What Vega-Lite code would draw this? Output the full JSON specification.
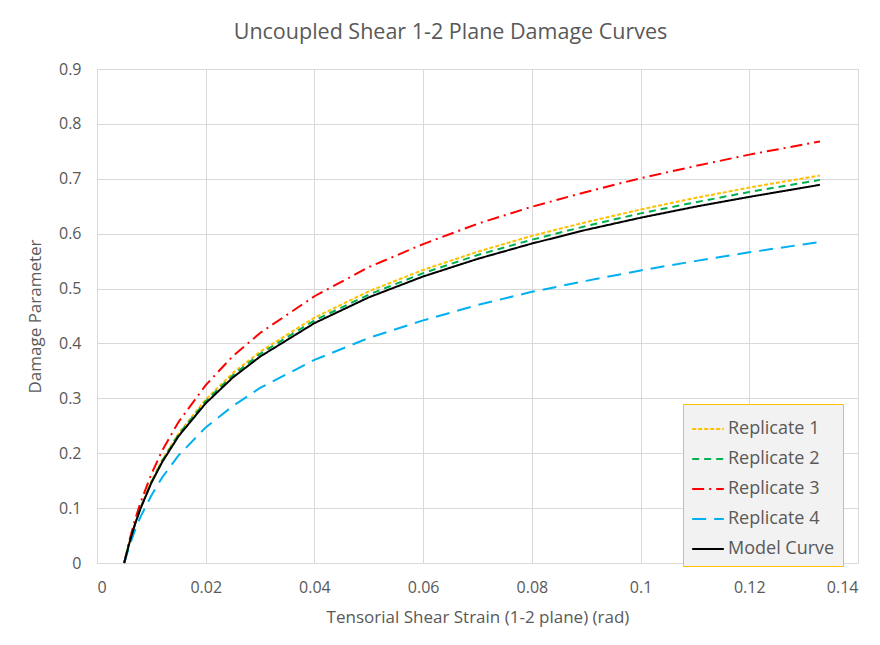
{
  "$schema": "https://vega.github.io/schema/vega-lite/v6.json",
  "autosize": "none",
  "width": 761,
  "height": 494,
  "padding": {"left": 97, "top": 69, "right": 22, "bottom": 82},
  "background": "white",
  "title": {"text": "Uncoupled Shear 1-2 Plane Damage Curves", "font": "Open Sans", "fontSize": 21.5, "fontWeight": "normal", "color": "#595959", "offset": 18, "anchor": "middle", "dx": -27},
  "datasets": {
    "curves": [
      {"s": "Replicate 1", "x": 0.005, "y": 0}, {"s": "Replicate 1", "x": 0.006, "y": 0.039}, {"s": "Replicate 1", "x": 0.007, "y": 0.072}, {"s": "Replicate 1", "x": 0.008, "y": 0.101}, {"s": "Replicate 1", "x": 0.01, "y": 0.149}, {"s": "Replicate 1", "x": 0.012, "y": 0.188}, {"s": "Replicate 1", "x": 0.015, "y": 0.236}, {"s": "Replicate 1", "x": 0.02, "y": 0.298}, {"s": "Replicate 1", "x": 0.025, "y": 0.346}, {"s": "Replicate 1", "x": 0.03, "y": 0.385}, {"s": "Replicate 1", "x": 0.04, "y": 0.447}, {"s": "Replicate 1", "x": 0.05, "y": 0.495}, {"s": "Replicate 1", "x": 0.06, "y": 0.534}, {"s": "Replicate 1", "x": 0.07, "y": 0.567}, {"s": "Replicate 1", "x": 0.08, "y": 0.596}, {"s": "Replicate 1", "x": 0.09, "y": 0.621}, {"s": "Replicate 1", "x": 0.1, "y": 0.644}, {"s": "Replicate 1", "x": 0.11, "y": 0.665}, {"s": "Replicate 1", "x": 0.12, "y": 0.684}, {"s": "Replicate 1", "x": 0.133, "y": 0.706},
      {"s": "Replicate 2", "x": 0.005, "y": 0}, {"s": "Replicate 2", "x": 0.006, "y": 0.039}, {"s": "Replicate 2", "x": 0.007, "y": 0.071}, {"s": "Replicate 2", "x": 0.008, "y": 0.1}, {"s": "Replicate 2", "x": 0.01, "y": 0.147}, {"s": "Replicate 2", "x": 0.012, "y": 0.186}, {"s": "Replicate 2", "x": 0.015, "y": 0.234}, {"s": "Replicate 2", "x": 0.02, "y": 0.295}, {"s": "Replicate 2", "x": 0.025, "y": 0.342}, {"s": "Replicate 2", "x": 0.03, "y": 0.381}, {"s": "Replicate 2", "x": 0.04, "y": 0.442}, {"s": "Replicate 2", "x": 0.05, "y": 0.489}, {"s": "Replicate 2", "x": 0.06, "y": 0.528}, {"s": "Replicate 2", "x": 0.07, "y": 0.561}, {"s": "Replicate 2", "x": 0.08, "y": 0.589}, {"s": "Replicate 2", "x": 0.09, "y": 0.614}, {"s": "Replicate 2", "x": 0.1, "y": 0.637}, {"s": "Replicate 2", "x": 0.11, "y": 0.657}, {"s": "Replicate 2", "x": 0.12, "y": 0.676}, {"s": "Replicate 2", "x": 0.133, "y": 0.698},
      {"s": "Replicate 3", "x": 0.005, "y": 0}, {"s": "Replicate 3", "x": 0.006, "y": 0.043}, {"s": "Replicate 3", "x": 0.007, "y": 0.079}, {"s": "Replicate 3", "x": 0.008, "y": 0.11}, {"s": "Replicate 3", "x": 0.01, "y": 0.162}, {"s": "Replicate 3", "x": 0.012, "y": 0.205}, {"s": "Replicate 3", "x": 0.015, "y": 0.257}, {"s": "Replicate 3", "x": 0.02, "y": 0.324}, {"s": "Replicate 3", "x": 0.025, "y": 0.377}, {"s": "Replicate 3", "x": 0.03, "y": 0.419}, {"s": "Replicate 3", "x": 0.04, "y": 0.486}, {"s": "Replicate 3", "x": 0.05, "y": 0.539}, {"s": "Replicate 3", "x": 0.06, "y": 0.581}, {"s": "Replicate 3", "x": 0.07, "y": 0.618}, {"s": "Replicate 3", "x": 0.08, "y": 0.649}, {"s": "Replicate 3", "x": 0.09, "y": 0.676}, {"s": "Replicate 3", "x": 0.1, "y": 0.701}, {"s": "Replicate 3", "x": 0.11, "y": 0.723}, {"s": "Replicate 3", "x": 0.12, "y": 0.744}, {"s": "Replicate 3", "x": 0.133, "y": 0.768},
      {"s": "Replicate 4", "x": 0.005, "y": 0}, {"s": "Replicate 4", "x": 0.006, "y": 0.032}, {"s": "Replicate 4", "x": 0.007, "y": 0.06}, {"s": "Replicate 4", "x": 0.008, "y": 0.084}, {"s": "Replicate 4", "x": 0.01, "y": 0.123}, {"s": "Replicate 4", "x": 0.012, "y": 0.156}, {"s": "Replicate 4", "x": 0.015, "y": 0.196}, {"s": "Replicate 4", "x": 0.02, "y": 0.247}, {"s": "Replicate 4", "x": 0.025, "y": 0.286}, {"s": "Replicate 4", "x": 0.03, "y": 0.319}, {"s": "Replicate 4", "x": 0.04, "y": 0.37}, {"s": "Replicate 4", "x": 0.05, "y": 0.41}, {"s": "Replicate 4", "x": 0.06, "y": 0.442}, {"s": "Replicate 4", "x": 0.07, "y": 0.47}, {"s": "Replicate 4", "x": 0.08, "y": 0.494}, {"s": "Replicate 4", "x": 0.09, "y": 0.514}, {"s": "Replicate 4", "x": 0.1, "y": 0.533}, {"s": "Replicate 4", "x": 0.11, "y": 0.55}, {"s": "Replicate 4", "x": 0.12, "y": 0.566}, {"s": "Replicate 4", "x": 0.133, "y": 0.585},
      {"s": "Model Curve", "x": 0.005, "y": 0}, {"s": "Model Curve", "x": 0.006, "y": 0.038}, {"s": "Model Curve", "x": 0.007, "y": 0.071}, {"s": "Model Curve", "x": 0.008, "y": 0.099}, {"s": "Model Curve", "x": 0.01, "y": 0.146}, {"s": "Model Curve", "x": 0.012, "y": 0.184}, {"s": "Model Curve", "x": 0.015, "y": 0.231}, {"s": "Model Curve", "x": 0.02, "y": 0.291}, {"s": "Model Curve", "x": 0.025, "y": 0.338}, {"s": "Model Curve", "x": 0.03, "y": 0.376}, {"s": "Model Curve", "x": 0.04, "y": 0.437}, {"s": "Model Curve", "x": 0.05, "y": 0.484}, {"s": "Model Curve", "x": 0.06, "y": 0.522}, {"s": "Model Curve", "x": 0.07, "y": 0.554}, {"s": "Model Curve", "x": 0.08, "y": 0.582}, {"s": "Model Curve", "x": 0.09, "y": 0.607}, {"s": "Model Curve", "x": 0.1, "y": 0.629}, {"s": "Model Curve", "x": 0.11, "y": 0.649}, {"s": "Model Curve", "x": 0.12, "y": 0.667}, {"s": "Model Curve", "x": 0.133, "y": 0.689}
    ]
  },
  "data": {"name": "curves"},
  "mark": {"type": "line", "strokeWidth": 2},
  "encoding": {
    "x": {"field": "x", "type": "quantitative", "scale": {"domain": [0, 0.14], "nice": false},
      "axis": {"title": "Tensorial Shear Strain (1-2 plane) (rad)", "values": [0, 0.02, 0.04, 0.06, 0.08, 0.1, 0.12, 0.14], "format": ".2~f"}},
    "y": {"field": "y", "type": "quantitative", "scale": {"domain": [0, 0.9], "nice": false},
      "axis": {"title": "Damage Parameter", "values": [0, 0.1, 0.2, 0.3, 0.4, 0.5, 0.6, 0.7, 0.8, 0.9], "format": ".1~f"}},
    "color": {"field": "s", "type": "nominal",
      "scale": {"domain": ["Replicate 1", "Replicate 2", "Replicate 3", "Replicate 4", "Model Curve"], "range": ["#FFC000", "#00B050", "#FF0000", "#00B0F0", "#000000"]},
      "legend": {"title": null, "orient": "none", "legendX": 586, "legendY": 335}},
    "strokeDash": {"field": "s", "type": "nominal",
      "scale": {"domain": ["Replicate 1", "Replicate 2", "Replicate 3", "Replicate 4", "Model Curve"], "range": [[4, 2], [7, 5], [12, 5, 2, 5], [14, 8], [1, 0]]},
      "legend": {"title": null, "orient": "none", "legendX": 586, "legendY": 335}},
    "order": {"field": "x", "type": "quantitative"}
  },
  "config": {
    "font": "Open Sans",
    "view": {"stroke": null},
    "axis": {"gridColor": "#d9d9d9", "gridWidth": 1, "domainColor": "#d9d9d9", "ticks": false, "labelFontSize": 16, "labelColor": "#595959", "titleFontSize": 17, "titleFontWeight": "normal", "titleColor": "#595959", "labelFont": "Open Sans", "titleFont": "Open Sans"},
    "axisX": {"labelPadding": 16, "titlePadding": 14},
    "axisY": {"labelPadding": 16, "titlePadding": 14},
    "legend": {"fillColor": "#f2f2f2", "strokeColor": "#FFC000", "padding": 8, "symbolType": "stroke", "symbolSize": 1000, "symbolStrokeWidth": 2, "labelFontSize": 18, "labelColor": "#595959", "labelFont": "Open Sans", "rowPadding": 4, "labelOffset": 3, "cornerRadius": 0}
  }
}
